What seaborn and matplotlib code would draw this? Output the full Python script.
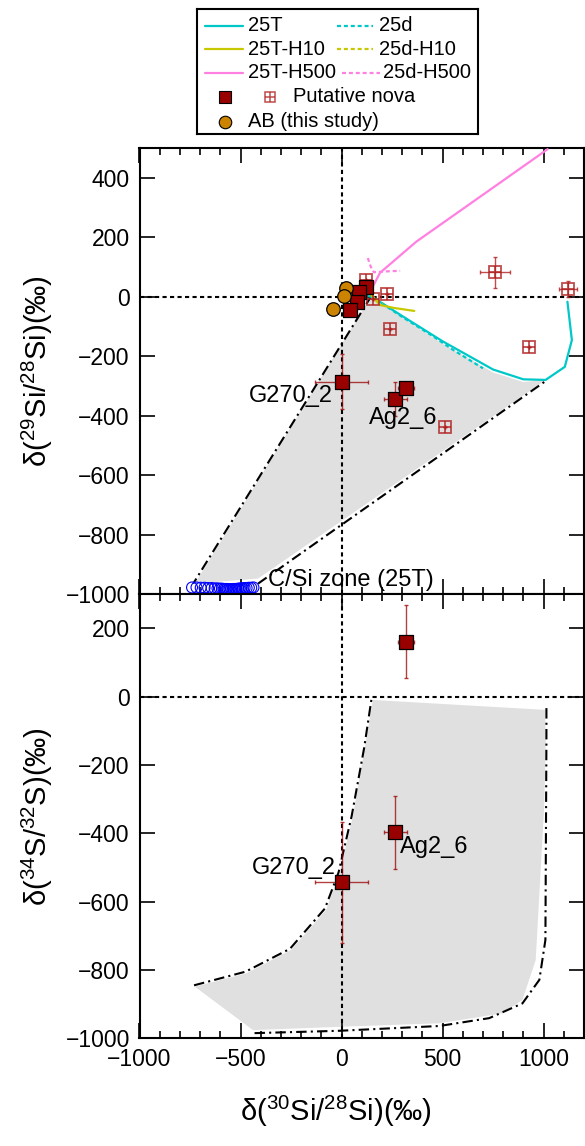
import matplotlib
matplotlib.use("Agg")
import matplotlib.pyplot as plt
from matplotlib.ticker import MultipleLocator
import seaborn as sns

# ---- values ----
# Si isotopes (top panel): model tracks
t25_x = [40, 150, 300, 500, 750, 900, 1010, 1105, 1140, 1118]
t25_y = [10, 0, -65, -150, -245, -278, -280, -236, -146, -17]
d25_x = [40, 150, 300, 450, 550, 700]
d25_y = [10, 0, -68, -132, -178, -241]
t25h10_x = [147, 190, 260, 360]
t25h10_y = [5, -28, -38, -48]
d25h10_x = [147, 175, 205]
d25h10_y = [5, -12, -22]
t25h500_x = [120, 155, 190, 370, 1020]
t25h500_y = [15, 34, 80, 185, 496]
d25h500_x = [130, 145, 160, 220, 290]
d25h500_y = [130, 100, 82, 85, 87]

# putative nova grains, filled squares (d30Si, d29Si)
nova_x = [122, 86, 76, 43, 0, 265, 320]
nova_y = [34, 17, -17, -45, -286, -344, -306]
nova_xerr = [0, 0, 0, 0, 130, 57, 39]
nova_yerr = [0, 0, 0, 0, 93, 56, 20]

# putative nova grains, open squares
open_x = [120, 224, 155, 240, 760, 1121, 927, 510]
open_y = [56, 9, -9, -109, 82, 26, -168, -440]
open_xerr = [0, 0, 0, 0, 74, 45, 0, 0]
open_yerr = [0, 0, 0, 0, 53, 28, 0, 0]

# AB grains (this study)
ab_x = [20, 10, -43]
ab_y = [30, 2, -41]

# C/Si zone (25T)
csi_x = [-740, -718, -697, -678, -660, -643, -628, -614, -602, -592, -583,
         -575, -568, -561, -554, -547, -540, -533, -526, -519, -512, -505,
         -497, -489, -480, -470, -459, -447, -436]
csi_y = [-978, -978, -979, -979, -980, -980, -981, -981, -982, -982, -983,
         -983, -983, -984, -984, -984, -984, -983, -983, -983, -982, -982,
         -981, -981, -980, -980, -979, -979, -978]

# shaded nova region (Si) and its dash-dot borders
reg_si_x = [150, -726, -413, 1011, 900, 750, 500, 300, 150]
reg_si_y = [5, -965, -948, -280, -287, -255, -158, -70, 0]
bord_si1_x = [150, -734]
bord_si1_y = [5, -965]
bord_si2_x = [-413, 1018]
bord_si2_y = [-965, -280]

# S isotopes (bottom panel)
s_x = [320, 265, 0]
s_y = [161, -397, -544]
s_xerr = [39, 57, 132]
s_yerr = [107, 107, 177]

reg_s_x = [155, 1007, 1011, 1003, 961, 895, 796, 484, 7, -438, -726,
           -471, -249, -76, -10, 56, 122]
reg_s_y = [-10, -39, -127, -322, -771, -888, -927, -956, -966, -976, -849,
           -810, -741, -624, -517, -351, -127]
bord_s1_x = [-730, -475, -255, -82, -15, 50, 112, 150]
bord_s1_y = [-845, -805, -738, -620, -515, -350, -150, 0]
bord_s2_x = [1014, 1014, 1009, 979, 895, 731, 484, -10, -438]
bord_s2_y = [-34, -127, -712, -829, -898, -941, -964, -978, -985]

# ---- style ----
C_CYAN = "#00C8C8"
C_YEL = "#C8C800"
C_PINK = "#FF80E0"
C_NOVA = "#990000"
C_OPEN = "#B02020"
C_AB = "#CC8400"
C_GRAY = "#E0E0E0"

sns.set_theme(style="ticks")
plt.rcParams["font.family"] = ["Liberation Sans", "DejaVu Sans"]
plt.rcParams["mathtext.fontset"] = "custom"
plt.rcParams["mathtext.rm"] = "Liberation Sans"
plt.rcParams["mathtext.it"] = "Liberation Sans:italic"
plt.rcParams["mathtext.bf"] = "Liberation Sans:bold"
for key in ["text.color", "axes.labelcolor", "xtick.color", "ytick.color",
            "axes.edgecolor"]:
    plt.rcParams[key] = "black"

W, H = 585, 1146
fig = plt.figure(figsize=(W / 100, H / 100), dpi=100)
left, right = 139.5, 584
ax1 = fig.add_axes([left / W, 1 - 594 / H, (right - left) / W, (594 - 148) / H])
ax2 = fig.add_axes([left / W, 1 - 1038.3 / H, (right - left) / W, (1038.3 - 594) / H])

DASHDOT = (0, (5, 2, 1, 2))
ZERO = (0, (2, 1.6))
SHORT = (0, (1.8, 1.3))


def open_squares(ax, x, y, xerr, yerr):
    ax.errorbar(x, y, xerr=xerr, yerr=yerr, fmt="none", ecolor=C_OPEN,
                elinewidth=1.0, capsize=1.5, alpha=0.8, zorder=5)
    ax.plot(x, y, "s", ms=8, mfc="none", mec=C_OPEN, mew=1.3, alpha=0.8,
            ls="none", zorder=6)
    ax.plot(x, y, "+", ms=8, mec=C_OPEN, mew=1.3, alpha=0.8, ls="none", zorder=6)


def nova_squares(ax, x, y, xerr, yerr):
    ax.errorbar(x, y, xerr=xerr, yerr=yerr, fmt="none", ecolor=C_NOVA,
                elinewidth=1.0, capsize=1.5, alpha=0.75, zorder=7)
    sns.scatterplot(x=x, y=y, marker="s", s=95, color=C_NOVA, edgecolor="black",
                    linewidth=0.9, ax=ax, legend=False, zorder=8)


# ---- top panel: Si ----
ax1.fill(reg_si_x, reg_si_y, color=C_GRAY, lw=0, zorder=0)
ax1.plot(bord_si1_x, bord_si1_y, color="black", lw=1.5, ls=DASHDOT, zorder=2)
ax1.plot(bord_si2_x, bord_si2_y, color="black", lw=1.5, ls=DASHDOT, zorder=2)
ax1.axhline(0, color="black", lw=1.5, ls=ZERO, zorder=1)
ax1.axvline(0, color="black", lw=1.5, ls=ZERO, zorder=1)

tracks = [
    (t25_x, t25_y, C_CYAN, "-"),
    (d25_x, d25_y, C_CYAN, SHORT),
    (t25h10_x, t25h10_y, C_YEL, "-"),
    (d25h10_x, d25h10_y, C_YEL, SHORT),
    (t25h500_x, t25h500_y, C_PINK, "-"),
    (d25h500_x, d25h500_y, C_PINK, SHORT),
]
for tx, ty, col, style in tracks:
    sns.lineplot(x=tx, y=ty, sort=False, estimator=None, color=col,
                 linestyle=style, lw=1.6, ax=ax1, zorder=3)

ax1.scatter(csi_x, csi_y, s=62, facecolors="none", edgecolors="blue",
            linewidths=0.8, zorder=4, clip_on=False)
ax1.text(-364, -953, "C/Si zone (25T)", fontsize=17, ha="left", va="center", zorder=9)

open_squares(ax1, open_x, open_y, open_xerr, open_yerr)
nova_squares(ax1, nova_x, nova_y, nova_xerr, nova_yerr)
sns.scatterplot(x=ab_x, y=ab_y, marker="o", s=95, color=C_AB, edgecolor="black",
                linewidth=0.9, ax=ax1, legend=False, zorder=8)

ax1.text(-43, -334, "G270_2", fontsize=17, ha="right", va="center", zorder=9)
ax1.text(138, -408, "Ag2_6", fontsize=17, ha="left", va="center", zorder=9)

ax1.set_xlim(-1000, 1200)
ax1.set_ylim(-1000, 500)
ax1.set_ylabel(r"δ($^{29}$Si/$^{28}$Si)(‰)", fontsize=21)
ax1.yaxis.set_label_coords(-0.19, 0.5)

# ---- bottom panel: S ----
ax2.fill(reg_s_x, reg_s_y, color=C_GRAY, lw=0, zorder=0)
ax2.plot(bord_s1_x, bord_s1_y, color="black", lw=1.5, ls=DASHDOT, zorder=2)
ax2.plot(bord_s2_x, bord_s2_y, color="black", lw=1.5, ls=DASHDOT, zorder=2)
ax2.axhline(0, color="black", lw=1.5, ls=ZERO, zorder=1)
ax2.axvline(0, color="black", lw=1.5, ls=ZERO, zorder=1)
nova_squares(ax2, s_x, s_y, s_xerr, s_yerr)
ax2.text(-26, -502, "G270_2", fontsize=17, ha="right", va="center", zorder=9)
ax2.text(291, -440, "Ag2_6", fontsize=17, ha="left", va="center", zorder=9)

ax2.set_xlim(-1000, 1200)
ax2.set_ylim(-1000, 300)
ax2.set_ylabel(r"δ($^{34}$S/$^{32}$S)(‰)", fontsize=21)
ax2.yaxis.set_label_coords(-0.19, 0.5)
ax2.set_xlabel(r"δ($^{30}$Si/$^{28}$Si)(‰)", fontsize=21)
ax2.xaxis.set_label_coords(0.443, -0.125)

for ax in (ax1, ax2):
    ax.xaxis.set_major_locator(MultipleLocator(500))
    ax.xaxis.set_minor_locator(MultipleLocator(100))
    ax.yaxis.set_major_locator(MultipleLocator(200))
    ax.tick_params(which="both", direction="in", top=True, right=True,
                   colors="black", labelsize=16.5)
    ax.tick_params(which="major", length=10.5, width=1.2, pad=7)
    ax.tick_params(which="minor", length=5, width=1.2)
    ax.tick_params(axis="y", which="minor", left=False, right=False)
    for sp in ax.spines.values():
        sp.set_linewidth(1.5)
        sp.set_color("black")
        sp.set_visible(True)
    ax.set_facecolor("white")
ax1.tick_params(labelbottom=False)

# ---- legend box drawn above the panels ----
lax = fig.add_axes([197 / W, 1 - 134 / H, 281 / W, 125 / H])
lax.set_xlim(0, 281)
lax.set_ylim(125, 0)
lax.set_xticks([])
lax.set_yticks([])
for sp in lax.spines.values():
    sp.set_linewidth(1.5)
    sp.set_color("black")
leg_rows = [16.7, 40.3, 63.7]
leg_lines = [
    ("25T", C_CYAN, "-", 8, 46, 51),
    ("25T-H10", C_YEL, "-", 8, 46, 51),
    ("25T-H500", C_PINK, "-", 8, 46, 51),
]
leg_dots = [
    ("25d", C_CYAN, SHORT, 140, 176, 182),
    ("25d-H10", C_YEL, SHORT, 140, 176, 182),
    ("25d-H500", C_PINK, SHORT, 145, 183, 186),
]
for ry, entries in zip(leg_rows, zip(leg_lines, leg_dots)):
    for lab, col, style, x0, x1, xt in entries:
        lax.plot([x0, x1], [ry, ry], color=col, ls=style, lw=1.6)
        lax.text(xt, ry, lab, fontsize=14.5, va="center", ha="left")
lax.plot([28], [87.7], "s", ms=9, mfc=C_NOVA, mec="black", mew=0.8)
lax.plot([73], [87.7], "s", ms=7, mfc="none", mec=C_OPEN, mew=1.1, alpha=0.8)
lax.plot([73], [87.7], "+", ms=7, mec=C_OPEN, mew=1.1, alpha=0.8)
lax.text(96, 87.7, "Putative nova", fontsize=14.5, va="center", ha="left")
lax.plot([28], [112.7], "o", ms=9, mfc=C_AB, mec="black", mew=0.8)
lax.text(51, 112.7, "AB (this study)", fontsize=14.5, va="center", ha="left")

fig.savefig("out.png", dpi=100)
